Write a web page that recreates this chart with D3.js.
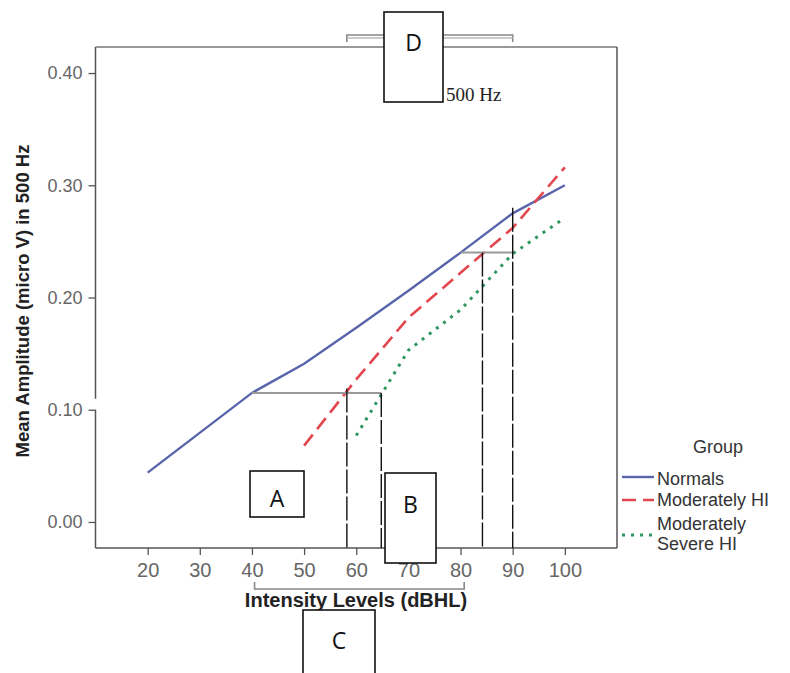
<!DOCTYPE html>
<html>
<head>
<meta charset="utf-8">
<script src="https://cdn.jsdelivr.net/npm/d3@7"></script>
<style>
  body { margin: 0; background: #fff; }
  .tick text { fill: #666; }
  .box rect { fill: #fff; stroke: #111; stroke-width: 1.6; }
  .box text { font-family: "Open Sans", sans-serif; font-size: 23px; fill: #111; }
</style>
</head>
<body>
<div class="container"></div>
<script>
// ---------- DATA ----------
var groups = ["Normals", "Moderately HI", "Moderately Severe HI"];

var normalsX = [20, 40, 50, 60, 70, 80, 90, 100];
var normalsY = [0.044, 0.115, 0.141, 0.173, 0.206, 0.240, 0.275, 0.300];

var modX = [50, 60, 70, 80, 90, 100];
var modY = [0.068, 0.127, 0.182, 0.222, 0.262, 0.316];

var sevX = [60, 70, 80, 90, 100];
var sevY = [0.077, 0.153, 0.189, 0.239, 0.271];

var xTicks = [20, 30, 40, 50, 60, 70, 80, 90, 100];
var yTicks = [0, 0.1, 0.2, 0.3, 0.4];

// reference lines drawn on the chart (in data units)
var hRefY = [0.115, 0.24];
var hRefFrom = [40, 80];
var hRefTo = [64.8, 90];
var vRefX = [58.2, 64.8, 84.2, 90];
var vRefTop = [0.119, 0.115, 0.24, 0.28];

var width = 790,
    height = 673,
    sans = "'Liberation Sans', Arial, sans-serif";

var x = d3.scaleLinear().domain([10, 110]).range([95.5, 617]);
var y = d3.scaleLinear().domain([-0.0232, 0.4232]).range([548, 47]);

var svg = d3.select(".container").append("svg")
    .attr("width", width)
    .attr("height", height)
    .style("font-family", sans);

// ---------- FRAME ----------
// top + right border
svg.append("line")
  .attr("x1", x(10)).attr("x2", x(110))
  .attr("y1", y.range()[1]).attr("y2", y.range()[1])
  .attr("stroke", "#999").attr("stroke-width", 2);
svg.append("line")
  .attr("x1", x(110)).attr("x2", x(110))
  .attr("y1", y.range()[1]).attr("y2", y.range()[0])
  .attr("stroke", "#555").attr("stroke-width", 1.5);

// x axis
var xAxis = svg.append("g")
  .attr("transform", "translate(0," + y.range()[0] + ")")
  .call(d3.axisBottom(x).tickValues(xTicks).tickSize(7).tickPadding(8).tickFormat(d3.format("d")));
xAxis.attr("font-family", null).attr("font-size", null);
xAxis.select(".domain").attr("stroke", "#555").attr("stroke-width", 1.5).attr("d", "M" + x(10) + ",0H" + x(110));
xAxis.selectAll(".tick line").attr("stroke", "#555").attr("stroke-width", 1.3);
xAxis.selectAll(".tick text").style("font-size", "20px");

// y axis with a small break just above 0.10
var yAxis = svg.append("g")
  .attr("transform", "translate(" + x(10) + ",0)")
  .call(d3.axisLeft(y).tickValues(yTicks).tickSize(7).tickPadding(6).tickFormat(d3.format(".2f")));
yAxis.attr("font-family", null).attr("font-size", null);
yAxis.select(".domain").remove();
yAxis.append("line")
  .attr("y1", y.range()[0]).attr("y2", y(0.1))
  .attr("stroke", "#555").attr("stroke-width", 1.5);
yAxis.append("line")
  .attr("y1", y(0.1) - 11).attr("y2", y.range()[1])
  .attr("stroke", "#555").attr("stroke-width", 1.5);
yAxis.selectAll(".tick line").attr("stroke", "#555").attr("stroke-width", 1.3);
yAxis.selectAll(".tick text").style("font-size", "18px");

// axis titles
svg.append("text")
  .attr("x", 356).attr("y", 607)
  .attr("text-anchor", "middle")
  .style("font-size", "20px").style("font-weight", "bold").attr("fill", "#222")
  .text("Intensity Levels (dBHL)");

svg.append("text")
  .attr("transform", "translate(29,301) rotate(-90)")
  .attr("text-anchor", "middle")
  .style("font-size", "18.5px").style("font-weight", "bold").attr("fill", "#222")
  .text("Mean Amplitude (micro V) in 500 Hz");

// ---------- SERIES ----------
var line = d3.line()
  .x(function(d) { return x(d[0]); })
  .y(function(d) { return y(d[1]); });

var series = [
  { pts: d3.zip(normalsX, normalsY), color: "#5865ab", dash: null, w: 2.4 },
  { pts: d3.zip(modX, modY), color: "#e2474f", dash: "14,7", w: 2.6 },
  { pts: d3.zip(sevX, sevY), color: "#2f9762", dash: "3,6", w: 3 }
];

svg.selectAll(".series")
  .data(series)
  .enter().append("path")
  .attr("class", "series")
  .attr("d", function(d) { return line(d.pts); })
  .attr("fill", "none")
  .attr("stroke", function(d) { return d.color; })
  .attr("stroke-width", function(d) { return d.w; })
  .attr("stroke-dasharray", function(d) { return d.dash; });

// ---------- REFERENCE LINES ----------
hRefY.forEach(function(v, i) {
  svg.append("line")
    .attr("x1", x(hRefFrom[i])).attr("x2", x(hRefTo[i]))
    .attr("y1", y(v)).attr("y2", y(v))
    .attr("stroke", "#999").attr("stroke-width", 2);
});

vRefX.forEach(function(v, i) {
  svg.append("line")
    .attr("x1", x(v)).attr("x2", x(v))
    .attr("y1", y(vRefTop[i])).attr("y2", y.range()[0])
    .attr("stroke", "#111").attr("stroke-width", 1.4)
    .attr("stroke-dasharray", "24,3");
});

// brackets (top: between the outer verticals, bottom: 40..80 dBHL)
function bracket(x0, x1, yy, dir, col) {
  svg.append("path")
    .attr("d", "M" + x0 + "," + (yy + dir * 7) + "V" + yy + "H" + x1 + "V" + (yy + dir * 7))
    .attr("fill", "none").attr("stroke", col).attr("stroke-width", 1.6);
}
bracket(x(vRefX[0]), x(vRefX[3]), 35, 1, "#888");
svg.append("line")
  .attr("x1", x(vRefX[0])).attr("x2", x(vRefX[3]))
  .attr("y1", 38).attr("y2", 38)
  .attr("stroke", "#bbb").attr("stroke-width", 1.5);
bracket(x(40.5), x(80.7), 589, -1, "#888");

svg.append("text")
  .attr("x", 446).attr("y", 101)
  .style("font-family", "'Liberation Serif', 'Times New Roman', serif")
  .style("font-size", "19px").attr("fill", "#222")
  .text("500 Hz");

// ---------- LEGEND ----------
var legend = svg.append("g").attr("fill", "#333").style("font-size", "18px");
legend.append("text")
  .attr("x", 718).attr("y", 453)
  .attr("text-anchor", "middle")
  .text("Group");

var legLineY = [477, 500, 535];
var legLabels = [["Normals"], ["Moderately HI"], ["Moderately", "Severe HI"]];
var legTextY = [485, 506, 530];
series.forEach(function(s, i) {
  legend.append("line")
    .attr("x1", 622).attr("x2", 654)
    .attr("y1", legLineY[i]).attr("y2", legLineY[i])
    .attr("stroke", s.color).attr("stroke-width", s.w)
    .attr("stroke-dasharray", s.dash);
  legLabels[i].forEach(function(t, j) {
    legend.append("text")
      .attr("x", 657).attr("y", legTextY[i] + j * 20)
      .text(t);
  });
});

// ---------- LABEL BOXES ----------
var boxes = [
  { t: "A", x: 250, y: 471, w: 54, h: 46, ty: 507 },
  { t: "B", x: 385, y: 473, w: 51, h: 90, ty: 513 },
  { t: "C", x: 303, y: 610, w: 72, h: 70, ty: 649 },
  { t: "D", x: 384, y: 12, w: 59, h: 90, ty: 51 }
];
var bx = svg.selectAll(".box")
  .data(boxes)
  .enter().append("g")
  .attr("class", "box");
bx.append("rect")
  .attr("x", function(d) { return d.x; })
  .attr("y", function(d) { return d.y; })
  .attr("width", function(d) { return d.w; })
  .attr("height", function(d) { return d.h; });
bx.append("text")
  .attr("x", function(d) { return d.x + d.w / 2; })
  .attr("y", function(d) { return d.ty; })
  .attr("text-anchor", "middle")
  .text(function(d) { return d.t; });
</script>
</body>
</html>
